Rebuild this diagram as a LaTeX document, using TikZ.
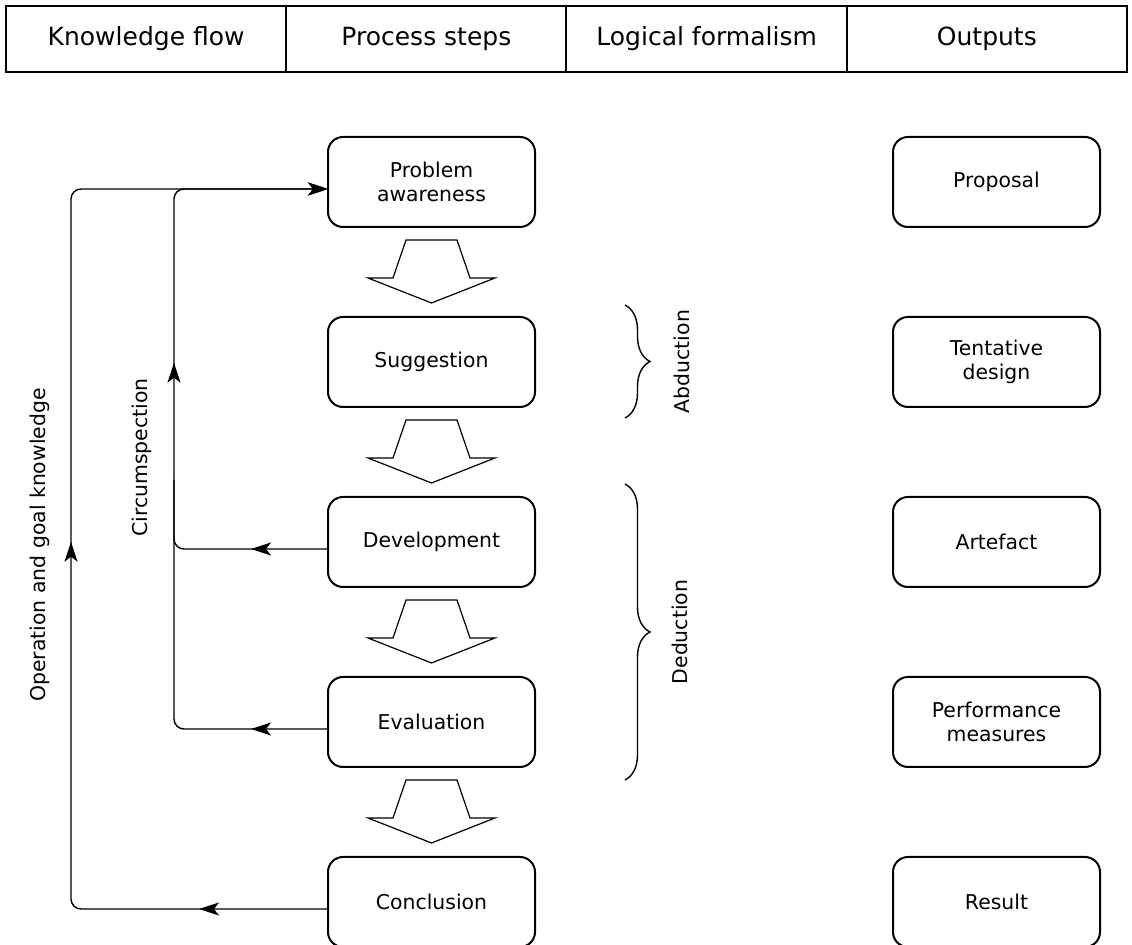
\documentclass[tikz,border=0pt]{standalone}
\usepackage{fontspec}
\setmainfont{DejaVu Sans}
\usepackage{tikz}
\usepackage{xcolor}
\usetikzlibrary{calc}
\usetikzlibrary{arrows.meta}
\usetikzlibrary{positioning}
\usetikzlibrary{decorations.pathreplacing}
\usetikzlibrary{decorations.markings}

\begin{document}
\begin{tikzpicture}[x=0.5pt, y=-0.5pt, >={Stealth[length=10pt,width=6.5pt,inset=2.5pt]}]

\tikzset{
    box/.style = {
    minimum height=45pt,
    minimum width = 103.5pt
    },
    pointe/.style = {
    postaction={decorate, decoration={markings, mark=at position #1 with {\arrow{>}}}}
    }
}

\tikzstyle{entete}=[draw, line width=1pt, minimum width=140.125pt, minimum height=33pt, font=\fontsize{12.5}{15}\selectfont]
\tikzstyle{etape}=[draw, line width=1pt, rounded corners=7.5pt, fill=white, outer sep=0pt, align=center, font=\fontsize{10.2}{12}\selectfont, box]
\tikzstyle{texte}=[font=\fontsize{10.2}{12}\selectfont, rotate=90]
\tikzstyle{fleche}=[draw, line width=0.6pt, line join=miter, fill=white]
\tikzstyle{flux}=[line width=0.7pt, rounded corners=5pt]
\tikzstyle{accolade}=[decorate, decoration={brace, amplitude=12.5pt}, line width=0.7pt]

\useasboundingbox[fill=white] (0,0) rectangle (1132,945);

\matrix (entetes) [column sep=-1pt] at (566.5,39)
{
\node (h-1) [entete] {Knowledge flow};
& \node (h-2) [entete] {Process steps};
& \node (h-3) [entete] {Logical formalism};
& \node (h-4) [entete] {Outputs};
\\
};

% etapes du processus
\node (pa) [etape] at (431.5,182) {Problem\\awareness};
\node (sug) [etape, below=45pt of pa] {Suggestion};
\node (dev) [etape, below=45pt of sug] {Development};
\node (eva) [etape, below=45pt of dev] {Evaluation};
\node (con) [etape, below=45pt of eva] {Conclusion};

% sorties
\node (prop) [etape, right=179pt of pa] {Proposal};
\node (tent) [etape, right=179pt of sug] {Tentative\\design};
\node (art) [etape, right=179pt of dev] {Artefact};
\node (perf) [etape, right=179pt of eva] {Performance\\measures};
\node (res) [etape, right=179pt of con] {Result};

\foreach \a in {pa, sug, dev, eva}
  \draw[fleche] ([shift={(-25.5,13)}]\a.south) -- ++(51,0) -- ++(13,38) -- ++(25,0)
    -- ++(-63.5,25) -- ++(-63.5,-25) -- ++(25,0) -- cycle;

% flux de connaissances
\coordinate (kf) at (71,189);
\coordinate (cs) at (174,189);
\coordinate (dj) at (174,480);

\draw[flux, ->, pointe=64.5pt, pointe=310pt] ([yshift=-3.5pt]con.west) -| (kf) -- ([yshift=-3.5pt]pa.west);
\draw[flux, ->, pointe=38.5pt, pointe=258pt] ([yshift=-3.5pt]eva.west) -| (cs) -- ([yshift=-3.5pt]pa.west);
\draw[flux, pointe=38.5pt] ([yshift=-3.5pt]dev.west) -| (dj);

\node (ogk) [texte] at (40,545) {Operation and goal knowledge};
\node (circ) [texte] at (142,457.5) {Circumspection};

% formalisme logique
\coordinate (ab-h) at ([shift={(90,-12)}]sug.north east);
\coordinate (ab-b) at ([shift={(90,11)}]sug.south east);
\coordinate (de-h) at ([shift={(90,-13)}]dev.north east);
\coordinate (de-b) at ([shift={(90,13)}]eva.south east);

\draw[accolade] (ab-h) -- (ab-b);
\draw[accolade] (de-h) -- (de-b);

\node (abd) [texte] at ($(ab-h)!0.5!(ab-b)+(57,0)$) {Abduction};
\node (ded) [texte] at ($(de-h)!0.5!(de-b)+(55,0)$) {Deduction};

\end{tikzpicture}
\end{document}
